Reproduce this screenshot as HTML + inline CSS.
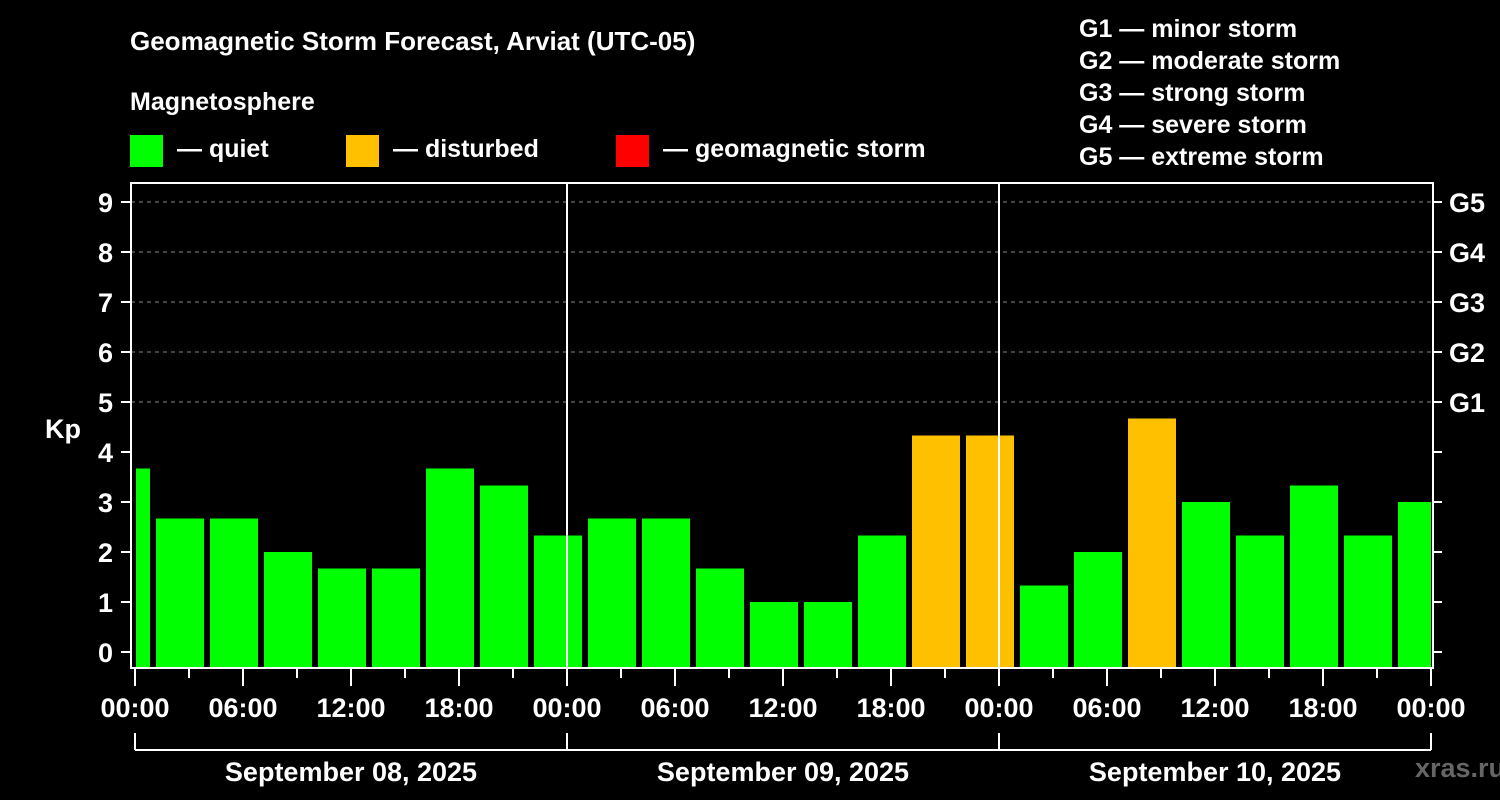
<!DOCTYPE html>
<html><head><meta charset="utf-8"><style>
html,body{margin:0;padding:0;background:#000;}
svg{display:block;font-family:"Liberation Sans",Arial,sans-serif;font-weight:bold;}
</style></head><body>
<svg id="c" width="1500" height="800" viewBox="0 0 1500 800">
<text x="130" y="50" fill="#fff" font-size="26">Geomagnetic Storm Forecast, Arviat (UTC-05)</text>
<text x="130" y="110" fill="#fff" font-size="25">Magnetosphere</text>
<g><rect x="130" y="135" width="33" height="32" fill="#00ff00"/><text x="177" y="157" fill="#fff" font-size="25">— quiet</text></g>
<g><rect x="346" y="135" width="33" height="32" fill="#ffc000"/><text x="393" y="157" fill="#fff" font-size="25">— disturbed</text></g>
<g><rect x="616" y="135" width="33" height="32" fill="#ff0000"/><text x="663" y="157" fill="#fff" font-size="25">— geomagnetic storm</text></g>
<g fill="#fff" font-size="25">
<text x="1079" y="37">G1 — minor storm</text><text x="1079" y="69">G2 — moderate storm</text><text x="1079" y="101">G3 — strong storm</text><text x="1079" y="133">G4 — severe storm</text><text x="1079" y="165">G5 — extreme storm</text></g>
<text x="63" y="438" fill="#fff" font-size="27" text-anchor="middle">Kp</text>
<text x="1460" y="777" fill="#666" font-size="27" text-anchor="middle">xras.ru</text>
<g id="plot"></g>
</svg>
<script>
const kpValues=[3.67,2.67,2.67,2,1.67,1.67,3.67,3.33,2.33,2.67,2.67,1.67,1,1,2.33,4.33,4.33,1.33,2,4.67,3,2.33,3.33,2.33,3];
const yTicks=[0,1,2,3,4,5,6,7,8,9];
const gLabels=["G1","G2","G3","G4","G5"];
const dayLabels=["September 08, 2025","September 09, 2025","September 10, 2025"];
const xTickLabels=["00:00","06:00","12:00","18:00"];
const firstBinHour=-2; // bins start at 22:00 local of previous day
const NS="http://www.w3.org/2000/svg";
const g=document.getElementById('plot');
const X0=135,PXH=18,L=131,R=1433,T=183,B=668;
const xs=h=>X0+h*PXH;
const ys=v=>652-v*50;
function mk(t,a){const e=document.createElementNS(NS,t);for(const k in a)e.setAttribute(k,a[k]);g.appendChild(e);return e;}
// grid
for(let v=5;v<=9;v++){const e=mk('line',{x1:L,x2:R,y1:ys(v),y2:ys(v),stroke:'#888','stroke-dasharray':'4,4','stroke-width':1});

}
// bars
kpValues.forEach((v,i)=>{
 const h0=firstBinHour+i*3;
 let x1=xs(h0)+3,x2=xs(h0+3)-3;
 x1=Math.max(x1,xs(0)+1);x2=Math.min(x2,xs(72));
 const r=mk('rect',{x:x1,y:ys(v),width:x2-x1,height:B-ys(v),fill:v>=5?'#ff0000':(v>=4?'#ffc000':'#00ff00')});
 
 
});
// day separators
[24,48].forEach(h=>{const e=mk('line',{x1:xs(h),x2:xs(h),y1:T,y2:B,stroke:'#fff','stroke-width':2});

});
// frame
const f=mk('rect',{x:L,y:T,width:R-L,height:B-T,fill:'none',stroke:'#fff','stroke-width':2});


// y ticks
yTicks.forEach(v=>{
 mk('line',{x1:L-10,x2:L,y1:ys(v),y2:ys(v),stroke:'#fff','stroke-width':2});
 mk('line',{x1:R,x2:R+9,y1:ys(v),y2:ys(v),stroke:'#fff','stroke-width':2});
 const t=mk('text',{x:113,y:ys(v)+10,fill:'#fff','font-size':27,'text-anchor':'end'});t.textContent=v;
 
 
});
gLabels.forEach((s,i)=>{const t=mk('text',{x:1449,y:ys(5+i)+10,fill:'#fff','font-size':27});t.textContent=s;
 
 });
// x ticks
for(let h=0;h<=72;h+=3){mk('line',{x1:xs(h),x2:xs(h),y1:B,y2:h%6==0?686:678,stroke:'#fff','stroke-width':2});}
for(let h=0;h<=72;h+=6){const t=mk('text',{x:xs(h),y:717,fill:'#fff','font-size':27,'text-anchor':'middle'});t.textContent=xTickLabels[(h/6)%4];
 
 }
// date bracket
mk('line',{x1:xs(0),x2:xs(72),y1:750,y2:750,stroke:'#fff','stroke-width':2});
for(let d=0;d<=3;d++)mk('line',{x1:xs(d*24),x2:xs(d*24),y1:733,y2:750,stroke:'#fff','stroke-width':2});
dayLabels.forEach((s,i)=>{const t=mk('text',{x:xs(i*24+12),y:781,fill:'#fff','font-size':27,'text-anchor':'middle'});t.textContent=s;
 
 });
</script>
</body></html>
